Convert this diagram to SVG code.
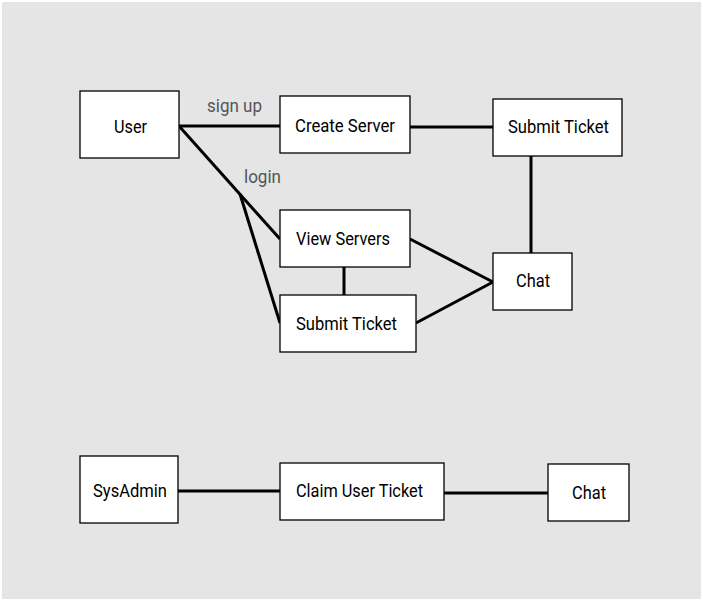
<svg xmlns="http://www.w3.org/2000/svg" width="703" height="601" viewBox="0 0 703 601">
<style>
.box{fill:#ffffff;stroke:#000000;stroke-width:1.3}
.lbl{font-family:Roboto,"Liberation Sans",sans-serif;font-size:18px;fill:#000000;text-anchor:middle}
.edge{font-family:Roboto,"Liberation Sans",sans-serif;font-size:18px;fill:#555555;text-anchor:middle}
.conn line{stroke:#000000;stroke-width:3;stroke-linecap:butt}
</style>
<rect x="2" y="2" width="699" height="597" fill="#e5e5e5"/>
<g id="connectors" class="conn">
<line x1="179" y1="126" x2="280" y2="126"/>
<line x1="179" y1="126" x2="280" y2="239"/>
<line x1="240" y1="194" x2="280" y2="323"/>
<line x1="410" y1="127" x2="493" y2="127"/>
<line x1="531" y1="156" x2="531" y2="253"/>
<line x1="344" y1="267" x2="344" y2="295"/>
<line x1="410" y1="239" x2="493" y2="282"/>
<line x1="416" y1="323" x2="493" y2="282"/>
<line x1="178" y1="491" x2="280" y2="491"/>
<line x1="444" y1="493" x2="548" y2="493"/>
</g>
<g id="edge-labels">
<text class="edge" x="234.5" y="112" textLength="55" lengthAdjust="spacingAndGlyphs">sign up</text>
<text class="edge" x="262.5" y="183" textLength="37" lengthAdjust="spacingAndGlyphs">login</text>
</g>
<g id="user"><rect class="box" x="80" y="91" width="99" height="67"/><text class="lbl" x="130.5" y="132.5" textLength="33" lengthAdjust="spacingAndGlyphs">User</text></g>
<g id="create-server"><rect class="box" x="280" y="96" width="130" height="57"/><text class="lbl" x="345" y="132" textLength="100" lengthAdjust="spacingAndGlyphs">Create Server</text></g>
<g id="submit-ticket-1"><rect class="box" x="493" y="99" width="129" height="57"/><text class="lbl" x="558.5" y="133" textLength="101" lengthAdjust="spacingAndGlyphs">Submit Ticket</text></g>
<g id="view-servers"><rect class="box" x="280" y="210" width="130" height="57"/><text class="lbl" x="343" y="245" textLength="94" lengthAdjust="spacingAndGlyphs">View Servers</text></g>
<g id="submit-ticket-2"><rect class="box" x="280" y="295" width="136" height="57"/><text class="lbl" x="346.5" y="330" textLength="101" lengthAdjust="spacingAndGlyphs">Submit Ticket</text></g>
<g id="chat-1"><rect class="box" x="493" y="253" width="79" height="57"/><text class="lbl" x="533" y="287" textLength="34" lengthAdjust="spacingAndGlyphs">Chat</text></g>
<g id="sysadmin"><rect class="box" x="80" y="456" width="98" height="67"/><text class="lbl" x="130" y="497" textLength="74" lengthAdjust="spacingAndGlyphs">SysAdmin</text></g>
<g id="claim-user-ticket"><rect class="box" x="280" y="463" width="164" height="57"/><text class="lbl" x="359.5" y="497" textLength="127" lengthAdjust="spacingAndGlyphs">Claim User Ticket</text></g>
<g id="chat-2"><rect class="box" x="548" y="464" width="81" height="57"/><text class="lbl" x="589" y="499" textLength="34" lengthAdjust="spacingAndGlyphs">Chat</text></g>
</svg>
